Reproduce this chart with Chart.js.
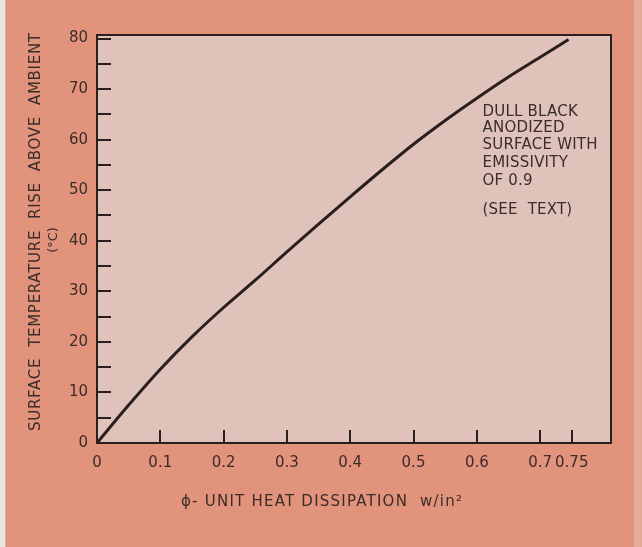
<!DOCTYPE html>
<html>
<head>
<meta charset="utf-8">
<title>Surface temperature rise vs unit heat dissipation</title>
<script src="https://cdn.jsdelivr.net/npm/chart.js@4.4.1/dist/chart.umd.min.js"></script>
<style>
  html, body { margin: 0; padding: 0; background: #e7e3e1; }
  canvas { display: block; }
</style>
</head>
<body>
<canvas id="chart" width="642" height="547"></canvas>
<script>
// Unit heat dissipation (W/in²) and the resulting surface temperature rise (°C)
const heatFlux = [0, 0.05, 0.1, 0.15, 0.2, 0.25, 0.3, 0.35, 0.4, 0.45, 0.5, 0.55, 0.6, 0.65, 0.7, 0.745];
const tempRise = [0, 7.5, 14.6, 21.0, 26.8, 32.2, 37.8, 43.3, 48.7, 54.0, 59.1, 63.8, 68.2, 72.4, 76.3, 79.8];

// Axis ticks
const xTickValues = [0, 0.1, 0.2, 0.3, 0.4, 0.5, 0.6, 0.7, 0.75];
const xTickLabels = ['0', '0.1', '0.2', '0.3', '0.4', '0.5', '0.6', '0.7', '0.75'];
const yTickValues = [0, 5, 10, 15, 20, 25, 30, 35, 40, 45, 50, 55, 60, 65, 70, 75, 80];
const yTickLabels = ['0', '', '10', '', '20', '', '30', '', '40', '', '50', '', '60', '', '70', '', '80'];

// Captions
const yTitleLines = ['SURFACE  TEMPERATURE  RISE  ABOVE  AMBIENT', '(°C)'];
const xTitle = 'ϕ- UNIT HEAT DISSIPATION  w/in²';
const noteLines = ['DULL BLACK', 'ANODIZED', 'SURFACE WITH', 'EMISSIVITY', 'OF 0.9'];
const noteFoot = '(SEE  TEXT)';

const INK = '#3b2c2a';
const LINE = '#2a1f1e';
const PAPER = '#e2937b';
const PLOT = '#dfc3bb';
const FONT = '"DejaVu Sans", sans-serif';

// Draw a single line of text stretched (via letter spacing) to a given width
function drawSpread(ctx, text, left, y, width) {
  ctx.letterSpacing = '0px';
  const w = ctx.measureText(text).width;
  const n = [...text].length;
  const sp = n > 1 ? (width - w) / (n - 1) : 0;
  ctx.letterSpacing = sp + 'px';
  ctx.textAlign = 'left';
  ctx.fillText(text, left, y);
  ctx.letterSpacing = '0px';
}

const paperPlugin = {
  id: 'paper',
  beforeDraw(chart) {
    const { ctx, chartArea: a, width, height } = chart;
    ctx.save();
    ctx.fillStyle = '#e9e5e3';
    ctx.fillRect(0, 0, width, height);
    ctx.fillStyle = '#e6ab98';
    ctx.fillRect(5, 0, width - 5, height);
    ctx.fillStyle = PAPER;
    ctx.fillRect(6, 0, 628, height);
    ctx.fillStyle = PLOT;
    ctx.fillRect(a.left, a.top, a.right - a.left, a.bottom - a.top);
    ctx.restore();
  },
  afterDraw(chart) {
    const { ctx, chartArea: a } = chart;
    ctx.save();
    // plot frame
    ctx.strokeStyle = LINE;
    ctx.lineWidth = 2;
    ctx.strokeRect(a.left, a.top, a.right - a.left, a.bottom - a.top);

    ctx.fillStyle = INK;
    ctx.textBaseline = 'middle';

    // vertical axis title
    ctx.save();
    ctx.translate(36.5, 232);
    ctx.rotate(-Math.PI / 2);
    ctx.font = '15px ' + FONT;
    drawSpread(ctx, yTitleLines[0], -199, 0, 398);
    ctx.restore();
    ctx.save();
    ctx.translate(54, 240);
    ctx.rotate(-Math.PI / 2);
    ctx.font = '13px ' + FONT;
    ctx.textAlign = 'center';
    ctx.fillText(yTitleLines[1], 0, 0);
    ctx.restore();

    // horizontal axis title
    ctx.font = '15px ' + FONT;
    drawSpread(ctx, xTitle, 181, 502, 281);

    // note beside the curve
    ctx.font = '15px ' + FONT;
    ctx.letterSpacing = '0px';
    const ref = ctx.measureText(noteLines[2]).width;
    const sp = (115 - ref) / ([...noteLines[2]].length - 1);
    ctx.letterSpacing = sp + 'px';
    ctx.textAlign = 'left';
    const ys = [111.7, 128.6, 145.6, 163.2, 181.3];
    noteLines.forEach((t, i) => ctx.fillText(t, 482.5, ys[i]));
    ctx.fillText(noteFoot, 482.5, 209.7);
    ctx.letterSpacing = '0px';
    ctx.restore();
  }
};

new Chart(document.getElementById('chart'), {
  type: 'line',
  data: {
    datasets: [{
      data: heatFlux.map((x, i) => ({ x, y: tempRise[i] })),
      borderColor: LINE,
      borderWidth: 3,
      pointRadius: 0,
      fill: false,
      cubicInterpolationMode: 'monotone'
    }]
  },
  options: {
    responsive: false,
    animation: false,
    events: [],
    layout: { padding: { top: 35, right: 31, left: 0, bottom: 0 } },
    plugins: { legend: { display: false }, tooltip: { enabled: false } },
    scales: {
      x: {
        type: 'linear',
        min: 0,
        max: 0.812,
        afterBuildTicks: s => { s.ticks = xTickValues.map(v => ({ value: v })); },
        afterFit: s => { s.height = 104; },
        ticks: {
          autoSkip: false,
          maxRotation: 0,
          padding: 24,
          color: INK,
          font: { family: FONT, size: 15 },
          callback: (v, i) => xTickLabels[i]
        },
        grid: { drawOnChartArea: false, drawTicks: true, tickLength: -13, color: LINE, lineWidth: 2 },
        border: { display: true, color: LINE, width: 2 }
      },
      y: {
        type: 'linear',
        min: 0,
        max: 80.7,
        afterBuildTicks: s => { s.ticks = yTickValues.map(v => ({ value: v })); },
        afterFit: s => { s.width = 97; },
        ticks: {
          autoSkip: false,
          padding: 23,
          color: INK,
          font: { family: FONT, size: 15 },
          callback: (v, i) => yTickLabels[i]
        },
        grid: { drawOnChartArea: false, drawTicks: true, tickLength: -14, color: LINE, lineWidth: 2 },
        border: { display: true, color: LINE, width: 2 }
      }
    }
  },
  plugins: [paperPlugin]
});
</script>
</body>
</html>
